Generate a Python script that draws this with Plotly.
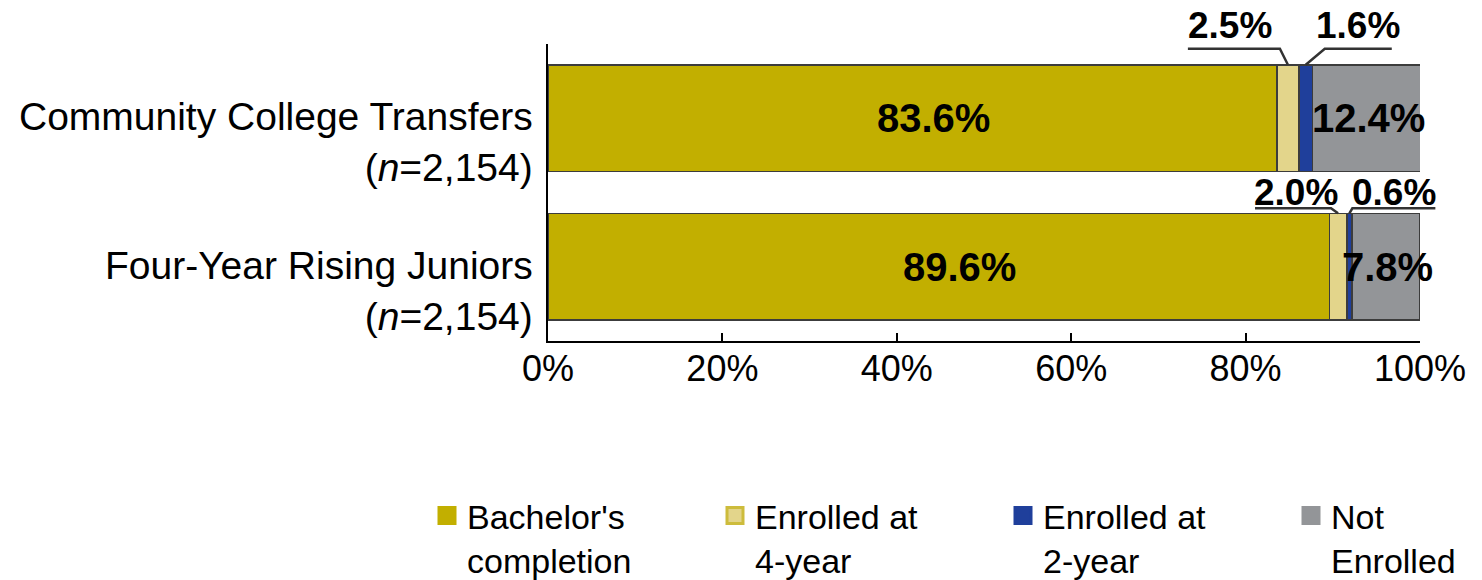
import plotly.graph_objects as go

# ---------------- data ----------------
categories = ["Community College Transfers<br>(<i>n</i>=2,154)",
              "Four-Year Rising Juniors<br>(<i>n</i>=2,154)"]
series_names = ["Bachelor's<br>completion", "Enrolled at<br>4-year",
                "Enrolled at<br>2-year", "Not<br>Enrolled"]
bachelors_completion = [83.6, 89.6]
enrolled_4yr = [2.5, 2.0]
enrolled_2yr = [1.6, 0.6]
not_enrolled = [12.4, 7.8]
x_tick_vals = [0, 20, 40, 60, 80, 100]
x_tick_text = ["0%", "20%", "40%", "60%", "80%", "100%"]

# ---------------- style ----------------
colors = ["#C2AF00", "#E3D58B", "#1F3F9B", "#939598"]
legend_line_colors = ["#C2AF00", "#CDBC3C", "#1F3F9B", "#939598"]
W, H = 1482, 580
M_L, M_R, M_T, M_B = 548, 62, 44, 239
PW, PH = W - M_L - M_R, H - M_T - M_B
X_RANGE = [0, 100]
Y_RANGE = [1.5, -0.5]
BAR_W = 0.72
FONT = "Liberation Sans, Arial, sans-serif"

series = [bachelors_completion, enrolled_4yr, enrolled_2yr, not_enrolled]

fig = go.Figure()
for name, vals, col in zip(series_names, series, colors):
    fig.add_trace(go.Bar(
        y=categories, x=vals, orientation="h", name=name, width=BAR_W,
        marker=dict(color=col, line=dict(color="#3C3C3C", width=1.5)),
        showlegend=False, hoverinfo="x+name",
    ))
# legend proxies (larger square symbols)
for name, col, lcol in zip(series_names, colors, legend_line_colors):
    fig.add_trace(go.Scatter(
        x=[None], y=[None], mode="markers", name=name,
        marker=dict(symbol="square", size=16, color=col,
                    line=dict(color=lcol, width=3)),
    ))


def px_x(v):
    return (v - X_RANGE[0]) / (X_RANGE[1] - X_RANGE[0])


def py_y(v):
    return (Y_RANGE[0] - v) / (Y_RANGE[0] - Y_RANGE[1])


annotations = []
shapes = []

# category labels (first line aligned with bar centre)
for ci, cat in enumerate(categories):
    annotations.append(dict(
        x=0, y=ci, xref="paper", yref="y", text=cat, showarrow=False,
        xanchor="right", yanchor="middle", align="right",
        xshift=-13, yshift=-24,
        font=dict(family=FONT, size=39, color="black"),
    ))

# segment starts
starts = []
for ci in range(len(categories)):
    s, row = 0.0, []
    for vals in series:
        row.append(s)
        s += vals[ci]
    starts.append(row)

# labels inside large segments
inside_series = [0, 3]
inside_xshift = {0: 21, 3: 2}
for ci in range(len(categories)):
    for si in inside_series:
        v = series[si][ci]
        annotations.append(dict(
            x=starts[ci][si] + v / 2, y=ci, xref="x", yref="y",
            text=f"{v:.1f}%", showarrow=False, xshift=inside_xshift[si],
            font=dict(family=FONT, size=40, color="black", weight="bold"),
        ))

# callout labels for thin segments: (cat, series, text dx, ul from, ul to, ul dy, text dy)
callouts = [
    (0, 1, -58, -100, -8, -16, -39),
    (0, 2, 52, 19, 86, -16, -39),
    (1, 1, -42, -83, -7, -5, -21),
    (1, 2, 45, 3, 86, -5, -21),
]
for ci, si, tdx, u0, u1, udy, tdy in callouts:
    v = series[si][ci]
    xc = px_x(starts[ci][si] + v / 2)
    ytop = py_y(ci - BAR_W / 2)
    yul = ytop - udy / PH
    ytx = ytop - tdy / PH
    annotations.append(dict(
        x=xc + tdx / PW, y=ytx, xref="paper", yref="paper",
        text=f"{v:.1f}%", showarrow=False, xanchor="center", yanchor="middle",
        font=dict(family=FONT, size=37, color="black", weight="bold"),
    ))
    if u1 <= 0:
        path = (f"M {xc + u0 / PW},{yul} L {xc + u1 / PW},{yul} "
                f"L {xc},{ytop}")
    else:
        path = (f"M {xc + u1 / PW},{yul} L {xc + u0 / PW},{yul} "
                f"L {xc},{ytop}")
    shapes.append(dict(type="path", xref="paper", yref="paper", path=path,
                       line=dict(color="#333333", width=2.5)))

fig.update_layout(
    width=W, height=H, barmode="stack",
    margin=dict(l=M_L, r=M_R, t=M_T, b=M_B, pad=0, autoexpand=False),
    paper_bgcolor="white", plot_bgcolor="white",
    font=dict(family=FONT, color="black"),
    xaxis=dict(range=X_RANGE, tickvals=x_tick_vals, ticktext=x_tick_text,
               showgrid=False, zeroline=False, showline=True,
               linecolor="black", linewidth=2, ticks="inside", ticklen=8,
               tickwidth=2, tickcolor="black", automargin=False,
               ticklabelstandoff=-5,
               tickfont=dict(family=FONT, size=36, color="black")),
    yaxis=dict(range=Y_RANGE, categoryorder="array", categoryarray=categories,
               showgrid=False, zeroline=False, showline=True,
               linecolor="black", linewidth=2, ticks="",
               showticklabels=False, automargin=False),
    legend=dict(orientation="h", x=(427 - M_L) / PW, xanchor="left",
                y=(M_T + PH - 487) / PH, yanchor="top", traceorder="normal",
                valign="top", entrywidth=243, entrywidthmode="pixels",
                font=dict(family=FONT, size=34, color="black"),
                bgcolor="rgba(0,0,0,0)", tracegroupgap=0, itemclick=False),
    annotations=annotations, shapes=shapes,
)

fig.write_html("out.html")
